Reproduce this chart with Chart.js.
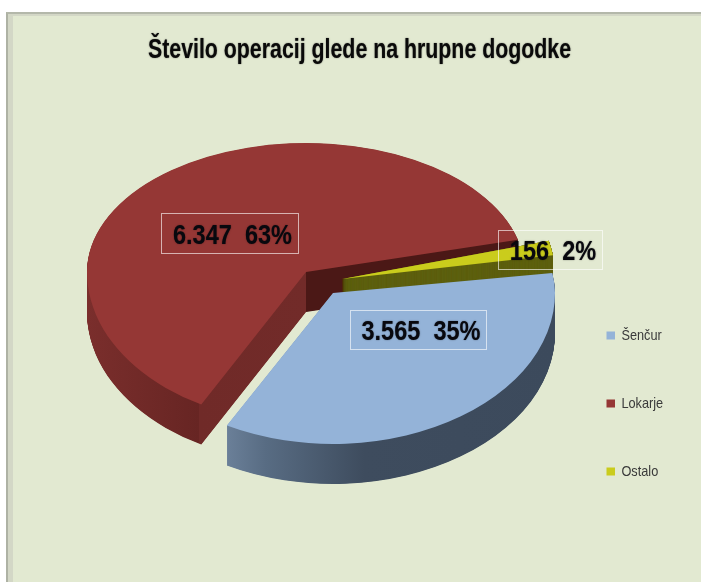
<!DOCTYPE html>
<html><head><meta charset="utf-8">
<script src="https://cdn.jsdelivr.net/npm/chart.js@4"></script>
<style>
html,body{margin:0;padding:0;background:#fff;width:701px;height:583px;overflow:hidden}
#panel{position:absolute;left:6px;top:12px;width:695px;height:570px;box-sizing:border-box;background:#e2e9d1;border-left:2px solid #aeb2a4;border-top:2px solid #b4b8aa;box-shadow:inset 5px 2px 0 #d3d7c6}
#c{position:absolute;left:0;top:0}
</style></head><body>
<div id="panel"></div>
<canvas id="c" width="701" height="583"></canvas>
<script>
const categories = ['Šenčur', 'Lokarje', 'Ostalo'];
const values = [3565, 6347, 156];
const titleText = 'Število operacij glede na hrupne dogodke';
const colors = ['#94b3d8', '#953735', '#cacc1c'];
const FONT = '"Liberation Sans",Arial,sans-serif';

// projection of the flat pie: one tilt above and one below the slice apex (fake perspective)
const RADIUS = 219, TILT_FRONT = 0.689, DEPTH = 40;
const view = [
  {x:333, y:293, sx:222/219, back:0.589, step:0.5},
  {x:306, y:272, sx:1,       back:0.589, step:0.5},
  {x:342, y:279, sx:0.975,   back:0.70,  step:0.1}
];
const labelBoxes = [
  {l:350, t:310, r:486, b:349},
  {l:161, t:213, r:298, b:253},
  {l:498, t:230, r:602, b:269}
];
const TEXT_SQUEEZE = 0.84, TITLE_SQUEEZE = 0.79, LEGEND_SQUEEZE = 0.85;

function sideFill(ctx, i, arc) {
  const v = view[i];
  const lx = X => arc.x + (X - v.x) / v.sx;
  if (i === 0) {
    const g = ctx.createLinearGradient(lx(226), 0, lx(555), 0);
    g.addColorStop(0, '#6b8099'); g.addColorStop(0.12, '#586c83');
    g.addColorStop(0.42, '#3e4c5e'); g.addColorStop(1, '#3c4a5c');
    return g;
  }
  if (i === 1) {
    const g = ctx.createLinearGradient(lx(87), 0, lx(520), 0);
    const f = X => (X - 87) / 433;
    g.addColorStop(0, '#7a2e2c'); g.addColorStop(f(199), '#672523');
    g.addColorStop(f(199.5), '#702a28'); g.addColorStop(f(306), '#722b29');
    g.addColorStop(f(306.5), '#4b1816'); g.addColorStop(1, '#4b1816');
    return g;
  }
  return '#5e6010';
}

function paint(ctx, chart, arc, i, dy, fill) {
  const v = view[i];
  const saved = arc.options;
  arc.options = Object.create(saved, {backgroundColor: {value: fill}, borderWidth: {value: 0}});
  const seam = v.y + dy;
  [[0, seam, v.back], [seam, chart.height - seam, TILT_FRONT]].forEach(([top, h, tilt]) => {
    ctx.save();
    ctx.beginPath(); ctx.rect(0, top, chart.width, h); ctx.clip();
    ctx.translate(v.x, seam);
    ctx.scale(v.sx, tilt);
    ctx.translate(-arc.x, -arc.y);
    arc.draw(ctx);
    ctx.restore();
  });
  arc.options = saved;
}

function squeezeDraw(box, ctx, from, to, k, blur) {
  const orig = box.draw;
  box.draw = function (area) {
    ctx.save();
    if (blur) { ctx.shadowColor = 'rgba(0,0,0,0.55)'; ctx.shadowBlur = blur; }
    ctx.translate(to(), 0); ctx.scale(k, 1); ctx.translate(-from(), 0);
    orig.call(box, area);
    ctx.restore();
  };
}

const pie3d = {
  id: 'pie3d',
  afterInit(chart) {
    squeezeDraw(chart.titleBlock, chart.ctx, () => chart.width / 2, () => 359.5, TITLE_SQUEEZE, 1.5);
    squeezeDraw(chart.legend, chart.ctx, () => chart.legend.left + chart.legend.options.labels.padding, () => 606.5, LEGEND_SQUEEZE, 0);
  },
  beforeDatasetDraw(chart) {
    const ctx = chart.ctx, arcs = chart.getDatasetMeta(0).data;
    [1, 2, 0].forEach(i => {
      const fill = sideFill(ctx, i, arcs[i]);
      for (let d = DEPTH; d > 0; d -= view[i].step) paint(ctx, chart, arcs[i], i, d, fill);
      paint(ctx, chart, arcs[i], i, 0, colors[i]);
    });
    return false;
  },
  afterDatasetsDraw(chart) {
    const ctx = chart.ctx, total = values.reduce((a, b) => a + b, 0);
    values.forEach((val, i) => {
      const b = labelBoxes[i];
      ctx.save();
      ctx.strokeStyle = 'rgba(255,255,255,0.62)';
      ctx.lineWidth = 1;
      ctx.strokeRect(b.l + 0.5, b.t + 0.5, b.r - b.l, b.b - b.t);
      ctx.fillStyle = '#08080e';
      ctx.shadowColor = 'rgba(0,0,0,0.5)'; ctx.shadowBlur = 1.5;
      ctx.font = 'bold 28px ' + FONT;
      ctx.textAlign = 'center'; ctx.textBaseline = 'middle';
      const txt = String(val).replace(/\B(?=(\d{3})+$)/g, '.') + '  ' + Math.round(val / total * 100) + '%';
      ctx.translate((b.l + b.r) / 2 + 3, (b.t + b.b) / 2 + 3);
      ctx.scale(TEXT_SQUEEZE, 1);
      ctx.fillText(txt, 0, 0);
      ctx.restore();
    });
  }
};

new Chart(document.getElementById('c'), {
  type: 'pie',
  data: {labels: categories, datasets: [{data: values, backgroundColor: colors, borderWidth: 0}]},
  plugins: [pie3d],
  options: {
    responsive: false, animation: false, radius: RADIUS, rotation: 81.1,
    layout: {padding: {bottom: 51, right: 0, top: 34}},
    plugins: {
      tooltip: {enabled: false},
      title: {display: true, text: titleText, color: '#0a0a0a', font: {family: FONT, size: 27, weight: 'bold'}, padding: 0},
      legend: {
        position: 'right', align: 'end',
        labels: {boxWidth: 10, boxHeight: 8, padding: 53, color: '#3a3a3a', font: {family: FONT, size: 15}}
      }
    }
  }
});
</script>
</body></html>
